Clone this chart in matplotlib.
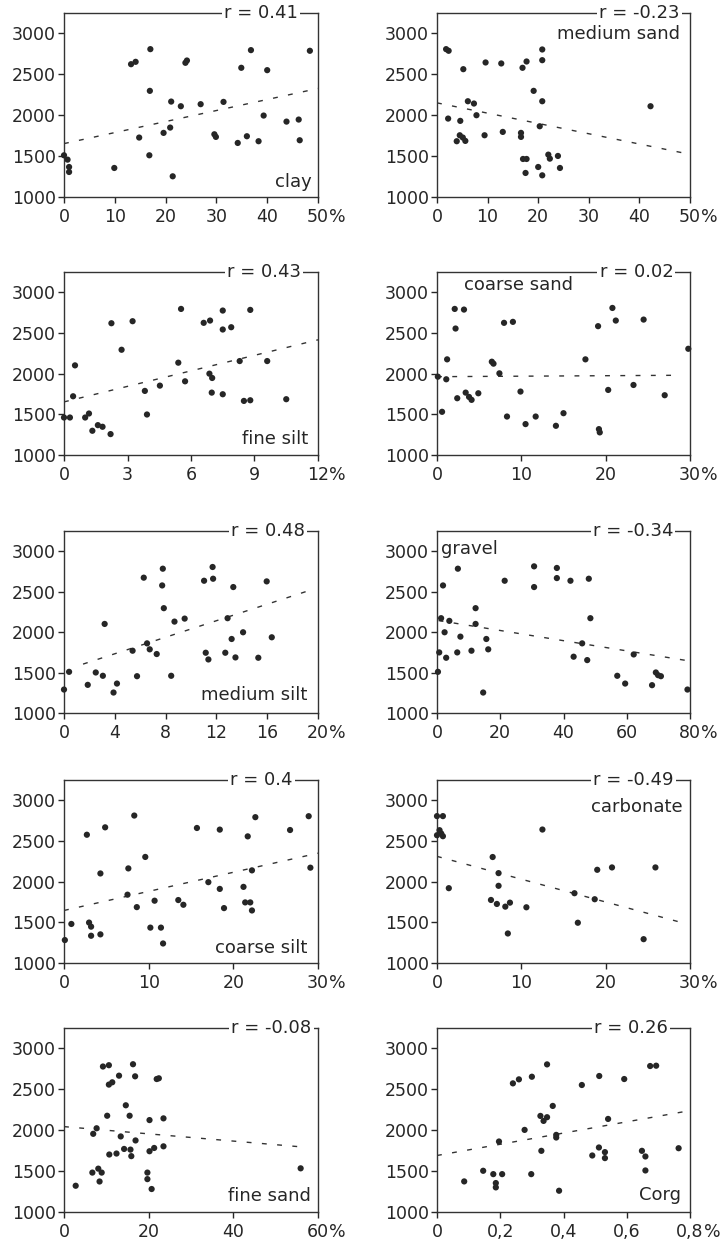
import matplotlib
matplotlib.use("Agg")
import matplotlib.pyplot as plt
import numpy as np

plt.rcParams['font.family'] = ['DejaVu Sans']

# ---------------- data ----------------
y_ticks = [1000, 1500, 2000, 2500, 3000]

clay_x = [0, 0.7, 1.0, 1.0, 9.9, 13.2, 14.1, 17.0, 16.9, 14.8, 16.8, 19.6, 21.1, 20.9, 21.4,
          23.0, 23.9, 24.2, 26.9, 29.6, 29.9, 31.4, 34.2, 34.9, 36.0, 36.8, 38.3, 39.3, 40.0,
          43.8, 46.2, 46.4, 48.4]
clay_y = [1510, 1457, 1367, 1306, 1355, 2624, 2653, 2808, 2298, 1727, 1510, 1784, 2167, 1849, 1253,
          2110, 2641, 2669, 2135, 1767, 1735, 2163, 1661, 2580, 1743, 2796, 1682, 1996, 2551,
          1922, 1947, 1694, 2788]

msand_x = [1.8, 2.3, 2.2, 4.6, 5.2, 6.1, 7.3, 7.8, 4.5, 5.1, 3.9, 5.6, 9.6, 9.4, 12.7, 13.0,
           16.9, 17.7, 16.6, 16.6, 17.0, 17.7, 17.5, 19.1, 20.0, 20.3, 20.8, 20.8, 20.8, 20.8,
           22.0, 22.3, 23.9, 24.3, 42.2]
msand_y = [2808, 2788, 1959, 1931, 2563, 2171, 2143, 2000, 1755, 1727, 1682, 1686, 2645, 1755, 2633, 1796,
           2580, 2657, 1784, 1735, 1465, 1465, 1294, 2298, 1367, 1865, 2804, 2673, 2171, 1265,
           1518, 1469, 1502, 1355, 2110]

fsilt_x = [0.0, 0.28, 0.43, 0.52, 1.0, 1.18, 1.34, 1.6, 1.82, 2.2, 2.24, 2.72, 3.24, 3.82, 3.92,
           4.53, 5.4, 5.53, 5.72, 6.6, 6.9, 6.87, 7.0, 6.98, 7.5, 7.5, 7.5, 7.9, 8.3, 8.5, 8.8,
           8.8, 9.6, 10.5]
fsilt_y = [1461, 1461, 1722, 2102, 1461, 1510, 1298, 1367, 1347, 1257, 2620, 2294, 2645, 1788, 1498,
           1853, 2135, 2796, 1906, 2625, 2653, 2000, 1947, 1767, 2776, 2543, 1747, 2571, 2155, 1665, 1673,
           2784, 2155, 1686]

csand_x = [0.1, 0.6, 1.1, 1.2, 2.1, 3.2, 2.2, 2.4, 3.4, 3.8, 4.1, 4.9, 6.5, 6.7, 7.4, 7.95, 9.0,
           8.3, 9.9, 10.5, 11.7, 14.1, 15.0, 17.6, 19.1, 19.2, 19.3, 20.3, 20.8, 21.2, 23.3, 24.5,
           27.0, 29.8]
csand_y = [1963, 1531, 1931, 2176, 2796, 2788, 2555, 1698, 1767, 1714, 1678, 1759, 2147, 2123, 2004, 2625, 2637,
           1473, 1780, 1380, 1473, 1359, 1514, 2176, 2584, 1318, 1278, 1800, 2808, 2653, 1861, 2665,
           1735, 2306]

msilt_x = [0.0, 0.4, 1.87, 2.5, 3.06, 3.2, 3.9, 4.17, 5.4, 5.75, 6.28, 6.54, 6.75, 7.3, 7.78, 7.73,
           7.86, 8.44, 8.7, 9.5, 11.03, 11.16, 11.37, 11.7, 11.74, 12.7, 12.88, 13.2, 13.33, 13.5,
           14.1, 15.3, 15.96, 16.36]
msilt_y = [1290, 1509, 1348, 1501, 1460, 2101, 1253, 1364, 1770, 1455, 2673, 1861, 1787, 1729, 2784, 2577,
           2296, 1460, 2130, 2167, 2635, 1745, 1662, 2805, 2660, 1745, 2172, 1915, 2557, 1687,
           1998, 1683, 2627, 1936]

gravel_x = [0.3, 0.7, 1.3, 1.9, 2.4, 2.9, 3.9, 6.6, 6.4, 7.4, 10.9, 12.2, 12.2, 14.6, 15.6, 16.2,
            21.4, 30.7, 30.7, 37.9, 37.9, 42.2, 43.2, 45.9, 47.5, 48.0, 48.5, 57.0, 59.5, 62.2,
            68.0, 69.2, 69.9, 70.8, 79.2]
gravel_y = [1509, 1749, 2172, 2577, 1998, 1683, 2139, 2784, 1749, 1944, 1770, 2296, 2101, 1253, 1915, 1787,
            2635, 2813, 2557, 2793, 2668, 2635, 1696, 1861, 1654, 2660, 2172, 1460, 1364, 1724,
            1344, 1501, 1468, 1455, 1290]

csilt_x = [0.1, 0.87, 2.7, 2.96, 3.2, 3.2, 4.3, 4.3, 4.86, 7.5, 7.6, 8.3, 8.6, 9.6, 10.2, 10.7,
           11.45, 11.7, 13.5, 14.1, 15.7, 17.05, 18.4, 18.4, 18.9, 21.2, 21.4, 22.0, 21.7, 22.2,
           22.2, 22.6, 26.7, 28.9, 29.1]
csilt_y = [1282, 1480, 2577, 1497, 1447, 1335, 1352, 2101, 2668, 1840, 2163, 2813, 1687, 2304, 1435, 1766,
           1435, 1240, 1774, 1716, 2660, 1994, 2640, 1911, 1675, 1936, 1745, 1745, 2557, 1646,
           2139, 2793, 2635, 2805, 2172]

carb_x = [0.0, 0.7, 0.3, 0.5, 0.0, 0.7, 1.4, 6.6, 6.4, 7.1, 7.3, 7.3, 8.1, 8.65, 8.4, 10.6,
          12.5, 16.3, 16.7, 18.7, 19.0, 20.75, 24.5, 25.9]
carb_y = [2806, 2806, 2633, 2592, 2571, 2559, 1920, 2303, 1775, 1726, 2105, 1949, 1693, 1742, 1363, 1685,
          2641, 1858, 1495, 1784, 2146, 2175, 1293, 2175]

fsand_x = [2.76, 6.7, 8.1, 8.9, 6.9, 7.7, 8.4, 9.2, 10.6, 10.2, 10.6, 11.4, 10.7, 12.4, 13.0, 13.4,
           14.6, 14.2, 15.7, 15.5, 15.9, 16.3, 16.8, 16.9, 19.7, 19.7, 20.2, 20.2, 21.3, 20.7,
           21.9, 22.4, 23.5, 23.5, 55.9]
fsand_y = [1321, 1482, 1530, 1482, 1956, 2024, 1373, 2779, 2795, 2177, 2558, 2586, 1703, 1715, 2667, 1924,
           2305, 1771, 1763, 2177, 1683, 2807, 2659, 1875, 1482, 1402, 2124, 1743, 1783, 1281,
           2626, 2635, 2145, 1803, 1534]

corg_x = [0.086, 0.146, 0.178, 0.186, 0.186, 0.196, 0.206, 0.24, 0.259, 0.277, 0.30, 0.298, 0.327,
          0.337, 0.348, 0.33, 0.348, 0.366, 0.377, 0.377, 0.386, 0.458, 0.491, 0.513, 0.512,
          0.531, 0.531, 0.541, 0.592, 0.648, 0.659, 0.659, 0.674, 0.693, 0.764]
corg_y = [1374, 1504, 1463, 1354, 1301, 1862, 1463, 2573, 2622, 2004, 2654, 1463, 2175,
          2114, 2159, 1748, 2805, 2297, 1943, 1911, 1260, 2553, 1691, 2663, 1789,
          1732, 1659, 2138, 2626, 1748, 1679, 1508, 2785, 2789, 1780]

# regression lines: intercept, slope, x start, x end
clay_fit = [1653, 13.48, 0, 50]
msand_fit = [2151, -12.58, 0, 50]
fsilt_fit = [1653, 63.6, 0, 12]
csand_fit = [1963, 0.6, 0, 28.2]
msilt_fit = [1528, 51.07, 1.5, 19.5]
gravel_fit = [2146, -6.3, 0.5, 79.4]
csilt_fit = [1646, 23.47, 0, 30]
carb_fit = [2311, -28.05, 0, 29.7]
fsand_fit = [2044, -4.42, 0, 56.3]
corg_fit = [1691, 686.0, 0, 0.8]

names = ['clay', 'medium sand', 'fine silt', 'coarse sand', 'medium silt',
         'gravel', 'coarse silt', 'carbonate', 'fine sand', 'Corg']
r_labels = ['r = 0.41', 'r = -0.23', 'r = 0.43', 'r = 0.02', 'r = 0.48',
            'r = -0.34', 'r = 0.4', 'r = -0.49', 'r = -0.08', 'r = 0.26']

clay_ticks = [0, 10, 20, 30, 40, 50]
msand_ticks = [0, 10, 20, 30, 40, 50]
fsilt_ticks = [0, 3, 6, 9, 12]
csand_ticks = [0, 10, 20, 30]
msilt_ticks = [0, 4, 8, 12, 16, 20]
gravel_ticks = [0, 20, 40, 60, 80]
csilt_ticks = [0, 10, 20, 30]
carb_ticks = [0, 10, 20, 30]
fsand_ticks = [0, 20, 40, 60]
corg_ticks = [0, 0.2, 0.4, 0.6, 0.8]
corg_ticklabels = ['0', '0,2', '0,4', '0,6', '0,8']

panels = [
    (clay_x, clay_y, clay_fit, clay_ticks, None),
    (msand_x, msand_y, msand_fit, msand_ticks, None),
    (fsilt_x, fsilt_y, fsilt_fit, fsilt_ticks, None),
    (csand_x, csand_y, csand_fit, csand_ticks, None),
    (msilt_x, msilt_y, msilt_fit, msilt_ticks, None),
    (gravel_x, gravel_y, gravel_fit, gravel_ticks, None),
    (csilt_x, csilt_y, csilt_fit, csilt_ticks, None),
    (carb_x, carb_y, carb_fit, carb_ticks, None),
    (fsand_x, fsand_y, fsand_fit, fsand_ticks, None),
    (corg_x, corg_y, corg_fit, corg_ticks, corg_ticklabels),
]

# ---------------- layout ----------------
W, H = 721, 1245
col_left = [64, 437]
col_width = [254, 253]
row_px = [(13, 197), (272, 455), (531, 713), (780, 963), (1028, 1212)]

# label placement (axes fraction): x, y, ha, va
name_pos = [(0.974, 0.082, 'right'), (0.96, 0.888, 'right'), (0.96, 0.09, 'right'),
            (0.107, 0.93, 'left'), (0.96, 0.10, 'right'), (0.017, 0.90, 'left'),
            (0.958, 0.084, 'right'), (0.97, 0.855, 'right'), (0.971, 0.089, 'right'),
            (0.965, 0.094, 'right')]
r_pos = [0.921, 0.96, 0.934, 0.934, 0.95, 0.934, 0.90, 0.936, 0.974, 0.912]

ink = '#262626'
fig = plt.figure(figsize=(W / 100, H / 100), dpi=100)
fig.patch.set_facecolor('white')

axes = []
for i, (xs, ys, fit, ticks, tlabels) in enumerate(panels):
    row, col = divmod(i, 2)
    top, bot = row_px[row]
    rect = [col_left[col] / W, 1 - bot / H, col_width[col] / W, (bot - top) / H]
    ax = fig.add_axes(rect)
    axes.append(ax)
    ax.scatter(xs, ys, s=20, color=ink, edgecolors='none', zorder=3, clip_on=False)
    b0, slope, xa, xb = fit
    lx = np.array([xa, xb])
    ax.plot(lx, b0 + slope * lx, color='#333333', lw=1.0,
            linestyle=(0, (3.5, 7.5)), zorder=2)
    ax.set_xlim(ticks[0], ticks[-1])
    ax.set_ylim(1000, 3250)
    ax.set_xticks(ticks)
    if tlabels is not None:
        ax.set_xticklabels(tlabels)
    else:
        ax.set_xticklabels([str(t) for t in ticks])
    ax.set_yticks(y_ticks)
    ax.tick_params(axis='both', direction='out', length=4, width=1, colors=ink,
                   labelsize=12.5, top=False, right=False)
    ax.tick_params(axis='y', pad=2)
    ax.tick_params(axis='x', pad=4)
    for sp in ax.spines.values():
        sp.set_color('#333333')
        sp.set_linewidth(1.0)
    ax.text(r_pos[i], 1.0, r_labels[i], transform=ax.transAxes, ha='right', va='center',
            fontsize=13, color=ink, zorder=5, clip_on=False,
            bbox=dict(facecolor='white', edgecolor='none', pad=1.5))
    nx, ny, ha = name_pos[i]
    ax.text(nx, ny, names[i], transform=ax.transAxes, ha=ha, va='center',
            fontsize=13, color=ink, zorder=5)

fig.canvas.draw()
renderer = fig.canvas.get_renderer()
inv = fig.transFigure.inverted()
for ax in axes:
    lab = ax.get_xticklabels()[-1]
    bb = lab.get_window_extent(renderer)
    fx, fy = inv.transform((bb.x1, bb.y0))
    fig.text(fx, fy, '%', ha='left', va='bottom', fontsize=12.5, color=ink)

fig.savefig('out.png', dpi=100, facecolor='white')
